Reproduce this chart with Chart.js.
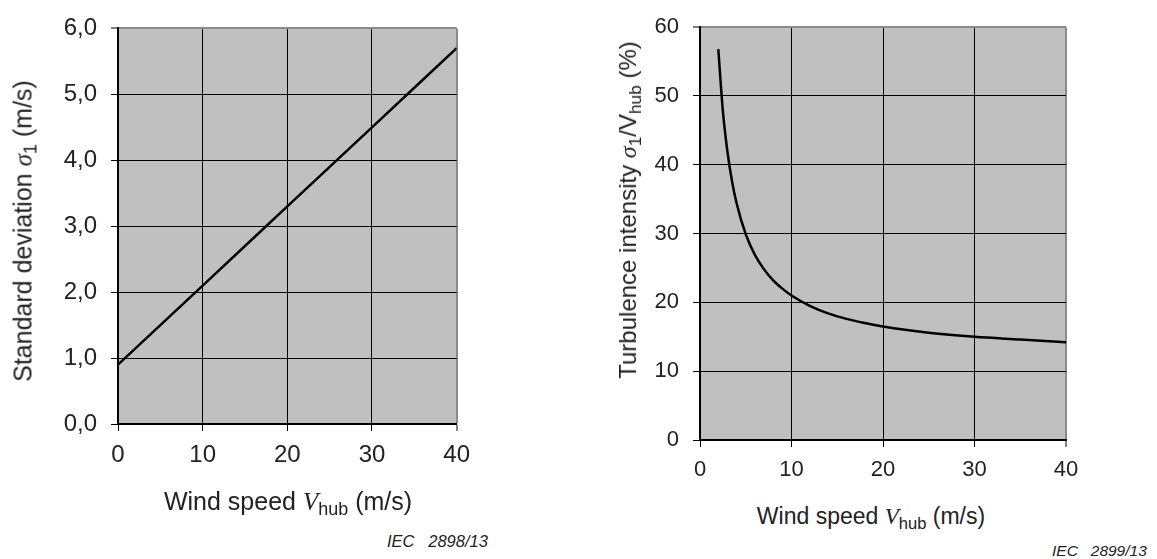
<!DOCTYPE html>
<html>
<head>
<meta charset="utf-8">
<script src="https://cdn.jsdelivr.net/npm/chart.js@4/dist/chart.umd.min.js"></script>
<style>
  html,body{margin:0;padding:0;background:#fff;}
  #wrap{position:relative;width:1157px;height:559px;overflow:hidden;font-family:"Liberation Sans",Arial,sans-serif;color:#222;}
  canvas{position:absolute;top:0;}
  .t{position:absolute;white-space:nowrap;line-height:1;}
  .s{font-family:"Liberation Serif","Times New Roman",serif;font-style:italic;}
  .sub{font-size:0.72em;position:relative;top:0.3em;}
  .rot{transform:translate(-50%,-50%) rotate(-90deg);}
  .hc{transform:translate(-50%,0);}
  .iec{position:absolute;white-space:pre;font-style:italic;line-height:1;}
</style>
</head>
<body>
<div id="wrap">
  <canvas id="c1" width="480" height="500" style="left:0px"></canvas>
  <canvas id="c2" width="577" height="500" style="left:580px"></canvas>

  <div class="t rot" style="left:23px;top:231px;font-size:25px;">Standard deviation <span class="s">σ</span><span class="sub">1</span> (m/s)</div>
  <div class="t hc" style="left:288px;top:489px;font-size:25px;">Wind speed <span class="s">V</span><span class="sub">hub</span> (m/s)</div>
  <div class="iec" style="left:387px;top:533px;font-size:16.5px;">IEC   2898/13</div>

  <div class="t rot" style="left:628px;top:210px;font-size:24px;">Turbulence intensity <span class="s">σ</span><span class="sub">1</span>/V<span class="sub">hub</span> (%)</div>
  <div class="t hc" style="left:871px;top:505px;font-size:23px;">Wind speed <span class="s">V</span><span class="sub">hub</span> (m/s)</div>
  <div class="iec" style="left:1052px;top:543px;font-size:15.5px;">IEC   2899/13</div>
</div>
<script>
// ---- data ----
const windSpeedLeft = [0, 10, 20, 30, 40];                 // m/s
const sigma1 = [0.90, 2.10, 3.30, 4.50, 5.70];             // m/s

const windSpeedRight = [2, 2.5, 3, 3.5, 4, 5, 6, 7, 8, 9, 10, 12, 14, 16, 18, 20, 25, 30, 35, 40];
const turbIntensity  = [56.8, 47.8, 41.9, 37.6, 34.4, 29.9, 26.9, 24.8, 23.2, 22.0, 21.0, 19.5, 18.4, 17.6, 17.0, 16.5, 15.6, 15.0, 14.6, 14.2]; // %

const xTicks = [0, 10, 20, 30, 40];
const yTicksLeft = [0, 1, 2, 3, 4, 5, 6];
const yTicksRight = [0, 10, 20, 30, 40, 50, 60];

const FONT = '"Liberation Sans", Arial, sans-serif';

const bgPlugin = {
  id: 'plotBg',
  beforeDraw(chart) {
    const a = chart.chartArea, c = chart.ctx;
    c.save();
    c.fillStyle = '#c0c0c0';
    c.fillRect(a.left, a.top, a.right - a.left, a.bottom - a.top);
    c.restore();
  }
};

function makeChart(id, xs, ys, opts) {
  const pts = xs.map((x, i) => ({x: x, y: ys[i]}));
  return new Chart(document.getElementById(id), {
    type: 'line',
    data: { datasets: [{
      data: pts, borderColor: '#000', borderWidth: 2.5, pointRadius: 0,
      fill: false, cubicInterpolationMode: 'monotone'
    }]},
    plugins: [bgPlugin],
    options: {
      responsive: false, animation: false, devicePixelRatio: 1,
      layout: { padding: { left: 0, right: opts.padRight, top: opts.padTop, bottom: 0 } },
      plugins: { legend: { display: false }, tooltip: { enabled: false } },
      scales: {
        x: {
          type: 'linear', min: 0, max: 40,
          afterBuildTicks: s => { s.ticks = xTicks.map(v => ({value: v})); },
          afterFit: s => { s.height = opts.xHeight; },
          border: { color: '#000', width: 2 },
          grid: {
            color: c => (c.tick && c.tick.value === 40) ? '#8a8a8a' : '#000',
            lineWidth: c => (c.tick && c.tick.value === 40) ? 2 : 1,
            tickColor: '#000', tickLength: 7, tickWidth: 1
          },
          ticks: { color: '#222', font: { family: FONT, size: opts.tickSize }, padding: 10, maxRotation: 0, autoSkip: false,
                   callback: v => String(v) }
        },
        y: {
          type: 'linear', min: opts.yMin, max: opts.yMax,
          afterBuildTicks: s => { s.ticks = opts.yTicks.map(v => ({value: v})); },
          afterFit: s => { s.width = opts.yWidth; },
          border: { color: '#000', width: 2 },
          grid: {
            color: c => (c.tick && c.tick.value === opts.yMax) ? '#8a8a8a' : '#000',
            lineWidth: c => (c.tick && c.tick.value === opts.yMax) ? 2 : 1,
            tickColor: '#000', tickLength: 7, tickWidth: 1
          },
          ticks: { color: '#222', font: { family: FONT, size: opts.tickSize }, padding: 14, autoSkip: false,
                   callback: opts.fmt }
        }
      }
    }
  });
}

makeChart('c1', windSpeedLeft, sigma1, {
  padRight: 22, padTop: 23, xHeight: 76, yWidth: 118, tickSize: 24,
  yMin: 0, yMax: 6, yTicks: yTicksLeft,
  fmt: v => v.toFixed(1).replace('.', ',')
});
makeChart('c2', windSpeedRight, turbIntensity, {
  padRight: 91, padTop: 16, xHeight: 60, yWidth: 120, tickSize: 22,
  yMin: 0, yMax: 60, yTicks: yTicksRight,
  fmt: v => String(v)
});
</script>
</body>
</html>
